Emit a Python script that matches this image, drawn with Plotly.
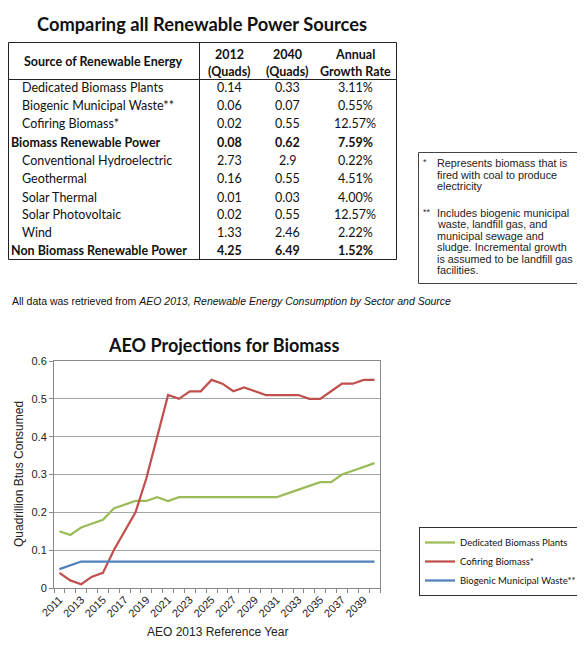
import plotly.graph_objects as go

# page has an 8px body margin; figure sized so it fills the 585x654 window
OFF = 8
W, H = 585 - OFF, 654 - OFF

# ---------------- data ----------------
table_title = "Comparing all Renewable Power Sources"
sources = ["Dedicated Biomass Plants", "Biogenic Municipal Waste**", "Cofiring Biomass*",
           "Biomass Renewable Power", "Conventional Hydroelectric", "Geothermal",
           "Solar Thermal", "Solar Photovoltaic", "Wind", "Non Biomass Renewable Power"]
quads_2012 = ["0.14", "0.06", "0.02", "0.08", "2.73", "0.16", "0.01", "0.02", "1.33", "4.25"]
quads_2040 = ["0.33", "0.07", "0.55", "0.62", "2.9", "0.55", "0.03", "0.55", "2.46", "6.49"]
growth = ["3.11%", "0.55%", "12.57%", "7.59%", "0.22%", "4.51%", "4.00%", "12.57%", "2.22%", "1.52%"]
bold_rows = ["Biomass Renewable Power", "Non Biomass Renewable Power"]

notes_1 = ["Represents biomass that is", "fired with coal to produce", "electricity"]
notes_2 = ["Includes biogenic municipal", "waste, landfill gas, and", "municipal sewage and",
           "sludge. Incremental growth", "is assumed to be landfill gas", "facilities."]

years = list(range(2011, 2041))
dedicated = [0.15, 0.14, 0.16, 0.17, 0.18, 0.21, 0.22, 0.23, 0.23, 0.24,
             0.23, 0.24, 0.24, 0.24, 0.24, 0.24, 0.24, 0.24, 0.24, 0.24,
             0.24, 0.25, 0.26, 0.27, 0.28, 0.28, 0.30, 0.31, 0.32, 0.33]
cofiring = [0.04, 0.02, 0.01, 0.03, 0.04, 0.10, 0.15, 0.20, 0.29, 0.40,
            0.51, 0.50, 0.52, 0.52, 0.55, 0.54, 0.52, 0.53, 0.52, 0.51,
            0.51, 0.51, 0.51, 0.50, 0.50, 0.52, 0.54, 0.54, 0.55, 0.55]
biogenic = [0.05, 0.06, 0.07, 0.07, 0.07, 0.07, 0.07, 0.07, 0.07, 0.07,
            0.07, 0.07, 0.07, 0.07, 0.07, 0.07, 0.07, 0.07, 0.07, 0.07,
            0.07, 0.07, 0.07, 0.07, 0.07, 0.07, 0.07, 0.07, 0.07, 0.07]
tick_years = list(range(2011, 2040, 2))

# ---------------- helpers ----------------
def px(x):
    return (x - OFF) / W

def py(y):
    return 1 - (y - OFF) / H

CAL = "Lato, Carlito, Calibri, sans-serif"
ARI = "Liberation Sans, Arial, sans-serif"

annotations = []
shapes = []

def text(x, y, s, size=13, font=CAL, color="#111", xanchor="center", yanchor="middle", **kw):
    annotations.append(dict(x=px(x), y=py(y), xref="paper", yref="paper", text=s,
                            showarrow=False, xanchor=xanchor, yanchor=yanchor,
                            font=dict(family=font, size=size, color=color), **kw))

def line(x0, y0, x1, y1, color="#333", width=1):
    shapes.append(dict(type="line", xref="paper", yref="paper",
                       x0=px(x0), y0=py(y0), x1=px(x1), y1=py(y1),
                       line=dict(color=color, width=width)))

def rect(x0, y0, x1, y1, color="#333", width=1):
    shapes.append(dict(type="rect", xref="paper", yref="paper",
                       x0=px(x0), y0=py(y0), x1=px(x1), y1=py(y1),
                       line=dict(color=color, width=width), fillcolor="rgba(0,0,0,0)"))

# ---------------- table ----------------
text(202, 24, "<b>" + table_title + "</b>", size=18.3)
rect(8.5, 42.5, 396.5, 259.5, color="#222")
line(199.5, 42.5, 199.5, 259.5, color="#222")
line(8.5, 79.5, 396.5, 79.5, color="#222")

text(103, 61, "<b>Source of Renewable Energy</b>", size=12.5)
text(229, 54, "<b>2012</b>", size=12.5)
text(229, 71, "<b>(Quads)</b>", size=12.5)
text(287, 54, "<b>2040</b>", size=12.5)
text(287, 71, "<b>(Quads)</b>", size=12.5)
text(355, 54, "<b>Annual</b>", size=12.5)
text(355, 71, "<b>Growth Rate</b>", size=12.5)

row_y = [88, 106, 124, 143, 161, 179, 197, 214, 232, 250]
for i, src in enumerate(sources):
    b = src in bold_rows
    wrap = (lambda s: "<b>" + s + "</b>") if b else (lambda s: s)
    text(9 if b else 20, row_y[i], wrap(src), size=12.5, xanchor="left")
    text(229, row_y[i], wrap(quads_2012[i]), size=12.5)
    text(287, row_y[i], wrap(quads_2040[i]), size=12.5)
    text(355, row_y[i], wrap(growth[i]), size=12.5)

# ---------------- notes ----------------
rect(418.5, 152.5, 577.5, 283.5, color="#444")
text(421, 162, "*", size=9, font=ARI, color="#333", xanchor="left")
for k, s in enumerate(notes_1):
    text(435, 163 + k * 11.5, s, size=10.8, font=ARI, color="#222", xanchor="left")
text(421, 212, "**", size=9, font=ARI, color="#333", xanchor="left")
for k, s in enumerate(notes_2):
    text(435, 213 + k * 11.4, s, size=10.8, font=ARI, color="#222", xanchor="left")

# ---------------- source line ----------------
text(10, 301, "All data was retrieved from <i>AEO 2013, Renewable Energy Consumption by Sector and Source</i>",
     size=10.5, font=ARI, color="#111", xanchor="left")

# ---------------- chart ----------------
text(223, 345, "<b>AEO Projections for Biomass</b>", size=18)
text(19, 474, "Quadrillion Btus Consumed", size=12, font=ARI, color="#222", textangle=-90)
text(217, 632, "AEO 2013 Reference Year", size=12, font=ARI, color="#222")

fig = go.Figure()
fig.add_trace(go.Scatter(x=years, y=dedicated, mode="lines", name="Dedicated Biomass Plants",
                         line=dict(color="#9BBB59", width=2.25)))
fig.add_trace(go.Scatter(x=years, y=cofiring, mode="lines", name="Cofiring Biomass*",
                         line=dict(color="#C0504D", width=2.25)))
fig.add_trace(go.Scatter(x=years, y=biogenic, mode="lines", name="Biogenic Municipal Waste**",
                         line=dict(color="#4F81BD", width=2.25)))

fig.update_layout(
    width=W, height=H, autosize=False,
    margin=dict(l=0, r=0, t=0, b=0, autoexpand=False),
    paper_bgcolor="white", plot_bgcolor="white",
    annotations=annotations, shapes=shapes,
    showlegend=True,
    legend=dict(x=px(419), y=py(527), xanchor="left", yanchor="top",
                bordercolor="#333", borderwidth=1, bgcolor="white",
                font=dict(family=CAL, size=9.5, color="#111"),
                itemwidth=30, tracegroupgap=0),
    xaxis=dict(domain=[px(54), px(380)], range=[2010.5, 2040.5], automargin=False,
               tickmode="array", tickvals=tick_years, ticktext=[str(t) for t in tick_years],
               tickangle=-45, ticks="", showgrid=False,
               tickfont=dict(family=ARI, size=11, color="#222"),
               showline=True, linecolor="#888", linewidth=1, mirror=True,
               minor=dict(tick0=2010.5, dtick=1, ticks="outside", ticklen=4, tickcolor="#888",
                          showgrid=False),
               zeroline=False, fixedrange=True),
    yaxis=dict(domain=[py(588), py(361)], range=[0, 0.6], dtick=0.1, automargin=False,
               ticks="outside", ticklen=4, tickcolor="#888",
               showgrid=True, gridcolor="#A6A6A6", gridwidth=1,
               tickfont=dict(family=ARI, size=11, color="#222"),
               showline=True, linecolor="#888", linewidth=1, mirror=True,
               zeroline=False, fixedrange=True),
)

fig.write_html("out.html")
